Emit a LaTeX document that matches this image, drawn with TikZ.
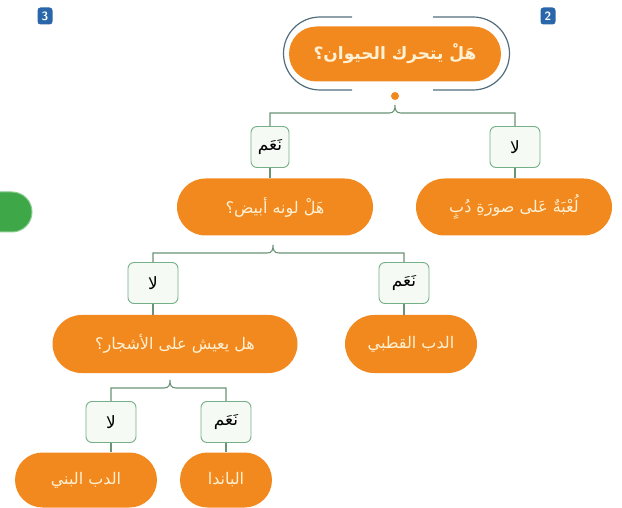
\documentclass[tikz,border=0pt]{standalone}
\usepackage{fontspec}
\newfontfamily\arabicfont[Script=Arabic]{DejaVu Sans}
\TeXXeTstate=1
\usetikzlibrary{shapes.misc}
\definecolor{pillorange}{RGB}{242,137,30}
\definecolor{pilltext}{RGB}{255,241,212}
\definecolor{forkgreen}{RGB}{105,148,118}
\definecolor{boxgreen}{RGB}{118,176,136}
\definecolor{boxfill}{RGB}{245,250,245}
\definecolor{ringblue}{RGB}{82,110,126}
\definecolor{badgeblue}{RGB}{42,102,170}
\definecolor{tabgreen}{RGB}{62,168,72}
\tikzset{
  pill/.style={rounded rectangle, fill=pillorange, text=pilltext, minimum height=57pt, inner sep=0pt,
    font=\arabicfont\fontsize{16}{19}\selectfont},
  answer/.style={draw=boxgreen, fill=boxfill, rounded corners=6pt, line width=0.9pt, minimum width=50pt,
    minimum height=41pt, inner sep=0pt, font=\arabicfont\fontsize{17}{20}\selectfont},
  fork/.style={draw=forkgreen, line width=1.1pt},
  badge/.style={fill=badgeblue, rounded corners=3pt, text=white, minimum width=15pt, minimum height=17pt,
    inner sep=0pt, font=\sffamily\bfseries\fontsize{12}{12}\selectfont}
}

\begin{document}
\begin{tikzpicture}[x=1pt, y=1pt]
    \useasboundingbox (0,0) rectangle (622,507);
    \node[badge] (b3) at (45,491) {3};
    \node[badge] (b2) at (548,491) {2};
    \fill[tabgreen, draw=tabgreen!60!white, line width=1pt, rounded corners=20pt] (-40,275) rectangle (32,315);

    % root question and its ring
    \node[pill, minimum width=212pt, minimum height=55pt, font=\arabicfont\bfseries\fontsize{17}{20}\selectfont] (q1) at (395,453) {\beginR هَلْ يتحرك الحيوان؟\endR};
    \draw[ringblue, line width=1.2pt] (352,490) -- (320,490) arc[start angle=90, end angle=270, radius=36.5] -- (352,417);
    \draw[ringblue, line width=1.2pt] (433,490) -- (473,490) arc[start angle=90, end angle=-90, radius=36.5] -- (433,417);
    \fill[pillorange] (395,411) circle (4);

    \node[answer, minimum width=38pt] (ny1) at (270,360) {\beginR نَعَم\endR};
    \node[answer] (la1) at (515,360) {\beginR لا\endR};
    \node[pill, minimum width=196pt] (q2) at (275,300) {\beginR هَلْ لونه أبيض؟\endR};
    \node[pill, minimum width=196pt] (toy) at (514,300) {\beginR لُعْبَةٌ عَلى صورَةِ دُبٍ\endR};

    \node[answer] (la2) at (153,224) {\beginR لا\endR};
    \node[answer] (ny2) at (404,224) {\beginR نَعَم\endR};
    \node[pill, minimum width=245pt, minimum height=58pt] (q3) at (175,163) {\beginR هل يعيش على الأشجار؟\endR};
    \node[pill, minimum width=132pt, minimum height=58pt] (polar) at (411,163) {\beginR الدب القطبي\endR};

    \node[answer] (la3) at (111,85) {\beginR لا\endR};
    \node[answer] (ny3) at (226,85) {\beginR نَعَم\endR};
    \node[pill, minimum width=142pt, minimum height=55pt] (brown) at (86,27) {\beginR الدب البني\endR};
    \node[pill, minimum width=92pt, minimum height=55pt] (panda) at (226,27) {\beginR الباندا\endR};

    % forks
    \coordinate (t1) at (395,402);
    \coordinate (t2) at (273,262);
    \coordinate (t3) at (170,127);
    \draw[fork] (ny1.north) |- ([xshift=-6pt,yshift=-8pt]t1) .. controls ([xshift=-1pt,yshift=-8pt]t1) and ([yshift=-5pt]t1) .. (t1)
        .. controls ([yshift=-5pt]t1) and ([xshift=1pt,yshift=-8pt]t1) .. ([xshift=6pt,yshift=-8pt]t1) -| (la1.north);
    \draw[fork] (la2.north) |- ([xshift=-6pt,yshift=-8pt]t2) .. controls ([xshift=-1pt,yshift=-8pt]t2) and ([yshift=-5pt]t2) .. (t2)
        .. controls ([yshift=-5pt]t2) and ([xshift=1pt,yshift=-8pt]t2) .. ([xshift=6pt,yshift=-8pt]t2) -| (ny2.north);
    \draw[fork] (la3.north) |- ([xshift=-6pt,yshift=-8pt]t3) .. controls ([xshift=-1pt,yshift=-8pt]t3) and ([yshift=-5pt]t3) .. (t3)
        .. controls ([yshift=-5pt]t3) and ([xshift=1pt,yshift=-8pt]t3) .. ([xshift=6pt,yshift=-8pt]t3) -| (ny3.north);
    \draw[fork] (ny1.south) -- (ny1.south |- q2.north);
    \draw[fork] (la1.south) -- (la1.south |- toy.north);
    \draw[fork] (la2.south) -- (la2.south |- q3.north);
    \draw[fork] (ny2.south) -- (ny2.south |- polar.north);
    \draw[fork] (la3.south) -- (la3.south |- brown.north);
    \draw[fork] (ny3.south) -- (ny3.south |- panda.north);
\end{tikzpicture}
\end{document}
